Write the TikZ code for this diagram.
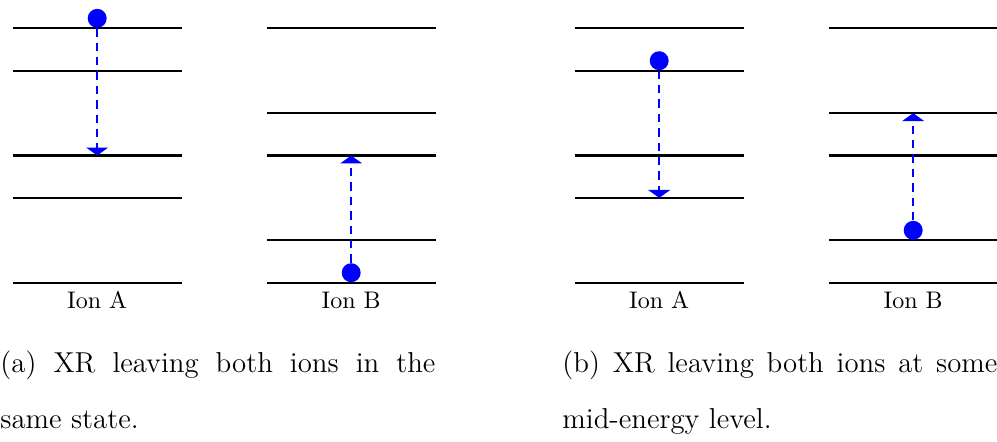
\documentclass[tikz,border=0pt]{standalone}
\usetikzlibrary{arrows.meta}
\begin{document}
\begin{tikzpicture}[x=0.41667pt,y=-0.41667pt,
  level/.style={line width=0.95pt},
  electron/.style={circle,fill=blue,draw=none,inner sep=0pt,minimum size=7.9pt},
  xr/.style={blue,line width=0.8pt,dash pattern=on 3.5pt off 2.5pt,-{Triangle[width=9pt,length=3.3pt]}},
  ionlabel/.style={font=\fontsize{10}{12}\selectfont,anchor=base,inner sep=0pt},
  caption/.style={font=\fontsize{12}{14}\selectfont,anchor=base west,inner sep=0pt}]
\useasboundingbox (0,0) rectangle (997,441);
% energy levels
\foreach \o in {0,562}{
  \foreach \k in {0,2,3,5,6}{
    \draw[level] ({12.7+\o},{282.7-42.4*\k}) -- ({181.7+\o},{282.7-42.4*\k});
  }
  \foreach \k in {0,1,3,4,6}{
    \draw[level] ({266.7+\o},{282.7-42.4*\k}) -- ({435.7+\o},{282.7-42.4*\k});
  }
}
% ion labels
\node[ionlabel] (aA) at (97.2,308.3) {Ion A};
\node[ionlabel] (aB) at (351.2,308.3) {Ion B};
\node[ionlabel] (bA) at (659.2,308.3) {Ion A};
\node[ionlabel] (bB) at (913.2,308.3) {Ion B};
% panel (a)
\node[electron] (ea) at (97.2,18.3) {};
\coordinate (ta) at (97.2,155.5);
\draw[xr] (ea) -- (ta);
\node[electron] (eb) at (351.2,272.7) {};
\coordinate (tb) at (351.2,155.5);
\draw[xr] (eb) -- (tb);
% panel (b)
\node[electron] (ec) at (659.2,60.7) {};
\coordinate (tc) at (659.2,197.9);
\draw[xr] (ec) -- (tc);
\node[electron] (ed) at (913.2,230.3) {};
\coordinate (td) at (913.2,113.1);
\draw[xr] (ed) -- (td);
% captions
\node[caption] (ca1) at (0,372.5) {\makebox[181.25pt][s]{(a) XR leaving both ions in the}};
\node[caption] (ca2) at (0,428.5) {same state.};
\node[caption] (cb1) at (562,372.5) {\makebox[181.25pt][s]{(b) XR leaving both ions at some}};
\node[caption] (cb2) at (562,428.5) {mid-energy level.};
\end{tikzpicture}
\end{document}
